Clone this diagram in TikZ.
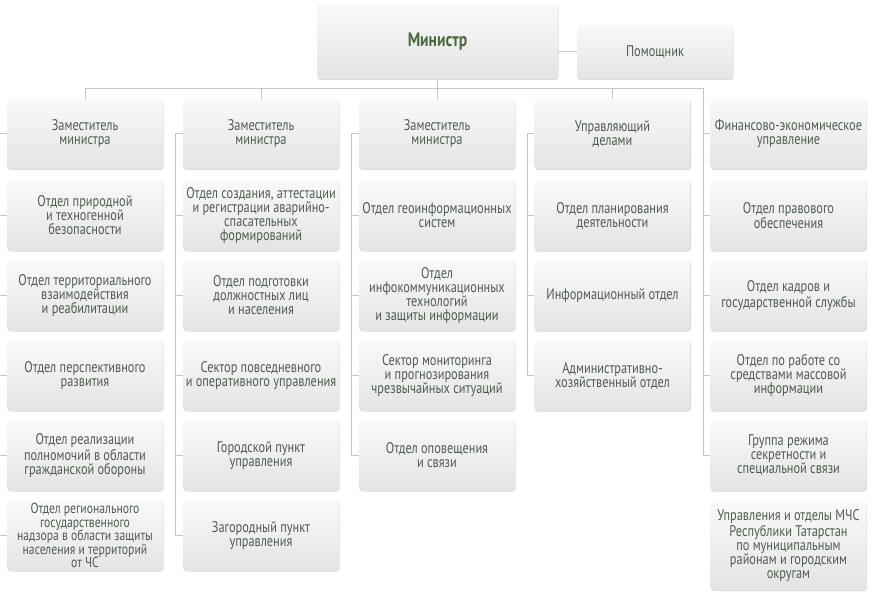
\documentclass[tikz,border=0pt]{standalone}
\usepackage{fontspec}
\setmainfont{PT Sans}[FakeStretch=0.8]
\usetikzlibrary{shadows}
\definecolor{boxtop}{HTML}{F9F9F9}
\definecolor{boxbot}{HTML}{E4E4E4}
\definecolor{boxtext}{HTML}{4E5E4E}
\definecolor{headtext}{HTML}{4A6A3C}
\definecolor{wirecol}{HTML}{C6C6C6}

\begin{document}
\begin{tikzpicture}[x=1pt, y=-1pt]
    \tikzstyle{box}=[rectangle, rounded corners=3pt, top color=boxtop, bottom color=boxbot,
        drop shadow={shadow xshift=0.6pt, shadow yshift=-1pt, opacity=0.3, fill=black!45},
        minimum width=156pt, minimum height=70pt, inner sep=1pt, align=center,
        text=boxtext, font=\fontsize{15.4}{14}\selectfont]
    \tikzstyle{wire}=[draw=wirecol, line width=1pt]
    \useasboundingbox (0, 0) rectangle (874, 604);

    \draw (437.5, 41.5) node[box, minimum width=241pt, minimum height=75pt, text=headtext, font=\fontsize{19.5}{20}\bfseries] (minister) {Министр};
    \draw (655, 52) node[box, minimum height=54pt] (helper) {Помощник};

    % column 1
    \draw (85, 134) node[box] (c1r1) {Заместитель\\министра};
    \draw (85, 215.5) node[box] (c1r2) {Отдел природной\\и техногенной\\безопасности};
    \draw (85, 295.5) node[box] (c1r3) {Отдел территориального\\взаимодействия\\и реабилитации};
    \draw (85, 375.5) node[box] (c1r4) {Отдел перспективного\\развития};
    \draw (85, 455.5) node[box] (c1r5) {Отдел реализации\\полномочий в области\\гражданской обороны};
    \draw (85, 535.5) node[box, font=\fontsize{14.6}{13.6}\selectfont] (c1r6) {Отдел регионального\\государственного\\надзора в области защиты\\населения и территорий\\от ЧС};

    % column 2
    \draw (261, 134) node[box] (c2r1) {Заместитель\\министра};
    \draw (261, 215.5) node[box] (c2r2) {Отдел создания, аттестации\\и регистрации аварийно-\\спасательных\\формирований};
    \draw (261, 295.5) node[box] (c2r3) {Отдел подготовки\\должностных лиц\\и населения};
    \draw (261, 375.5) node[box] (c2r4) {Сектор повседневного\\и оперативного управления};
    \draw (261, 455.5) node[box] (c2r5) {Городской пункт\\управления};
    \draw (261, 535.5) node[box] (c2r6) {Загородный пункт\\управления};

    % column 3
    \draw (437, 134) node[box] (c3r1) {Заместитель\\министра};
    \draw (437, 215.5) node[box] (c3r2) {Отдел геоинформационных\\систем};
    \draw (437, 295.5) node[box] (c3r3) {Отдел\\инфокоммуникационных\\технологий\\и защиты информации};
    \draw (437, 375.5) node[box] (c3r4) {Сектор мониторинга\\и прогнозирования\\чрезвычайных ситуаций};
    \draw (437, 455.5) node[box] (c3r5) {Отдел оповещения\\и связи};

    % column 4
    \draw (612.5, 134) node[box] (c4r1) {Управляющий\\делами};
    \draw (612.5, 215.5) node[box] (c4r2) {Отдел планирования\\деятельности};
    \draw (612.5, 295.5) node[box] (c4r3) {Информационный отдел};
    \draw (612.5, 375.5) node[box] (c4r4) {Административно-\\хозяйственный отдел};

    % column 5
    \draw (788.5, 134) node[box] (c5r1) {Финансово-экономическое\\управление};
    \draw (788.5, 215.5) node[box] (c5r2) {Отдел правового\\обеспечения};
    \draw (788.5, 295.5) node[box] (c5r3) {Отдел кадров и\\государственной службы};
    \draw (788.5, 375.5) node[box] (c5r4) {Отдел по работе со\\средствами массовой\\информации};
    \draw (788.5, 455.5) node[box] (c5r5) {Группа режима\\секретности и\\специальной связи};
    \draw (788.5, 545.5) node[box, minimum height=89pt] (c5r6) {Управления и отделы МЧС\\Республики Татарстан\\по муниципальным\\районам и городским\\округам};

    % links
    \coordinate (busL) at (85, 89);
    \coordinate (busR) at (703.5, 89);
    \draw[wire] (busL) -- (busR);
    \draw[wire] (minister.south) -- (minister.south |- busL);
    \draw[wire] (minister.east |- helper.west) -- (helper.west);
    \foreach \cl in {1,...,4}
        \draw[wire] (c\cl r1.north) -- (c\cl r1.north |- busL);
    \foreach \cl/\last in {1/6, 2/6, 3/5, 4/4}
        \foreach \rw in {2,...,\last}
            \draw[wire] (c\cl r1.west) -- ++(-7, 0) |- (c\cl r\rw.west);
    \foreach \rw in {1,...,5}
        \draw[wire] (busR) |- (c5r\rw.west);
\end{tikzpicture}
\end{document}
